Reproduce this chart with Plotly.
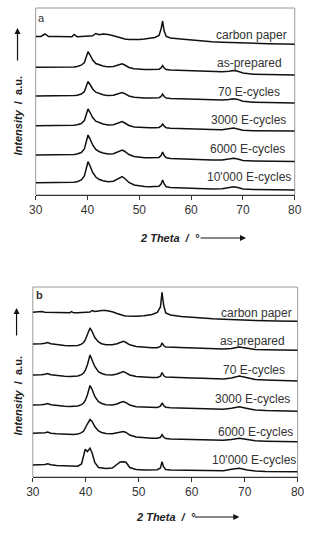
import plotly.graph_objects as go

W, H = 318, 543

# ---------------- Panel a data ----------------
xa = [30, 31, 31.8, 32.5, 34, 35, 36, 37, 37.4, 38, 38.8, 39.4, 39.8, 40.1, 40.5, 41, 41.6, 42.3, 43, 43.5,
      44, 45, 45.8, 46.3, 46.7, 47.2, 48, 49, 50, 51, 52, 53, 53.8, 54.2, 54.5, 54.8, 55.2, 56, 58, 60,
      62, 64, 66, 67.3, 68.2, 69, 70, 72, 75, 78, 80]

a_carbon = [158.5, 158.5, 161, 158.5, 158.4, 158.3, 158.3, 158.3, 160.5, 158.3, 158.5, 158.6, 158.7, 158.8, 158.9,
            159.2, 161.5, 160.2, 161, 161, 160.5, 159.2, 158, 157.3, 156.7, 156, 155.5, 155.4, 155.5, 156, 156.5,
            157.5, 159.5, 166, 174, 164, 158.5, 157, 156, 155, 154, 153.3, 152.8, 152.5, 152.3, 152.2, 152,
            151.7, 151.3, 151, 150.7]
a_asprep = [127.7, 127.7, 127.6, 127.5, 127.6, 127.5, 127.7, 128, 128.1, 128.5, 129.8, 132.5, 138, 143.3, 140,
            135, 131.5, 130, 129, 128.5, 128.2, 128.5, 129.5, 130.5, 131.2, 130, 127.5, 126.2, 125.7, 125.5,
            125.5, 125.5, 125.8, 127, 129.3, 127, 125.5, 125, 124.5, 124, 123.8, 123.5, 123.2, 123.8, 124.5,
            123.8, 122, 120.8, 120.3, 120.1, 120]
a_70 = [99, 99, 98.9, 98.8, 98.9, 98.8, 99, 99.3, 99.4, 99.8, 101, 103.5, 108.5, 113.5, 110.5, 106, 102.8, 101.3,
        100.3, 99.8, 99.5, 99.8, 100.8, 101.8, 102.5, 101.3, 99, 97.8, 97.2, 97, 97, 97, 97.3, 98.5, 100.8, 98.5,
        97, 96.6, 96.2, 95.8, 95.5, 95.2, 95, 95.6, 96.3, 95.6, 93.8, 92.8, 92.3, 92.1, 92]
a_3000 = [69.3, 69.3, 69.2, 69.1, 69.2, 69.1, 69.3, 69.6, 69.7, 70.2, 71.5, 74.5, 80.5, 86, 82.5, 77.5, 73.8, 72,
          71, 70.4, 70, 70.3, 71.5, 72.7, 73.5, 72, 69.5, 68, 67.5, 67.2, 67.2, 67.2, 67.5, 68.8, 71, 68.8, 67.2,
          66.8, 66.3, 66, 65.8, 65.5, 65.2, 66, 67, 66, 64.8, 64.3, 64.1, 64, 64]
a_6000 = [40, 40, 39.9, 39.8, 39.9, 39.8, 40, 40.3, 40.5, 41, 42.5, 46, 53, 60, 56, 50, 45.5, 43.3, 42, 41.4, 41,
          41.3, 42.8, 44.2, 45, 43.5, 40.5, 38.5, 37.8, 37.3, 37.2, 37.2, 37.6, 39.5, 43, 39.5, 37.2, 36.5, 36,
          35.7, 35.3, 35, 35, 36, 36.7, 36, 34.6, 34, 33.7, 33.5, 33.4]
a_10000 = [12.3, 12.3, 12.2, 12.1, 12.2, 12.1, 12.3, 12.6, 12.8, 13.3, 15, 19, 26.5, 33.3, 29, 22.5, 18, 15.5,
           14.2, 13.6, 13.2, 13.8, 15.8, 17.5, 18.3, 16.5, 12.5, 10, 9, 8.5, 8.3, 8.3, 8.8, 11, 15, 11, 8.2, 7.5,
           7, 6.6, 6.3, 6, 6.2, 7.5, 8.3, 7.5, 6, 5.5, 5.2, 5, 5]

# ---------------- Panel b data ----------------
xb = [30, 31, 31.6, 32.3, 32.8, 33.4, 34.5, 36, 37, 37.3, 37.7, 38.5, 39.2, 39.6, 39.9, 40.3, 40.8, 41.2, 41.7,
      42.4, 43, 43.8, 45, 45.9, 46.5, 47.1, 47.6, 48.3, 49.5, 51, 52.5, 53.5, 54.1, 54.4, 54.7, 55.1, 56, 58,
      60, 62, 64, 66, 67.5, 69, 70.5, 72, 74, 76, 78, 80]

b_carbon = [164.7, 164.8, 165.5, 164.7, 164.6, 164.5, 164.3, 164.2, 164.3, 165.3, 164.2, 164.2, 164.3, 164.4,
            164.5, 164.6, 165, 166.5, 165.5, 166, 166.5, 166.4, 165.3, 163.5, 162.3, 161.5, 161, 160.7, 160.7,
            161.2, 162.5, 164.5, 170, 184.7, 172, 164, 162, 160.5, 159.5, 158.8, 158.2, 157.7, 157.3, 157,
            156.8, 156.5, 156.2, 156, 155.8, 155.7]
b_asprep = [133, 133, 133.2, 133.8, 134.5, 133.2, 132.3, 131.5, 131.2, 131.2, 131.2, 131.5, 132.8, 134.5, 137,
            142, 149, 145.5, 139.5, 135, 133.3, 132.3, 132.2, 133.3, 134.8, 135.8, 134.5, 132.2, 130.5, 129.5,
            129.2, 129.3, 130.5, 134, 131.5, 130, 129.8, 129.5, 129, 128.7, 128.2, 128, 128.5, 130, 128.7, 127.5,
            127.2, 127, 126.8, 126.7]
b_70 = [102, 102, 102.2, 102.8, 103.5, 102.3, 101.5, 100.8, 100.5, 100.5, 100.6, 101, 102.3, 104, 106.5, 112,
        122, 117.5, 110.5, 105.3, 103.5, 102.3, 102, 103, 104.5, 105.5, 104.2, 102, 100.5, 99.8, 99.5, 99.6,
        100.8, 104.5, 101.5, 100, 99.7, 99.4, 99, 98.7, 98.3, 98, 99, 101, 99.2, 97.5, 97, 96.6, 96.3, 96]
b_3000 = [72, 72, 72.2, 72.8, 73.5, 72.3, 71.5, 70.8, 70.5, 70.5, 70.6, 71, 72.3, 74, 76.5, 82, 91.5, 87.5, 80.5,
          75.3, 73.5, 72.3, 72, 73, 74.5, 75.5, 74.3, 72, 70.3, 69.8, 69.5, 69.6, 70.8, 74, 71.5, 69.8, 69.3,
          69, 68.6, 68.3, 68, 67.8, 68.8, 70.3, 68.6, 67, 66.5, 66.2, 66, 65.8]
b_6000 = [43.7, 43.7, 43.8, 44.3, 45, 43.8, 43.2, 42.6, 42.3, 42.3, 42.4, 42.9, 44.3, 46, 48.5, 53, 57.5, 55.5,
          50.5, 46, 44.5, 43.5, 43.3, 44, 45, 45.5, 44.5, 42, 40, 39.2, 38.8, 38.8, 39.7, 42.3, 40, 38.5, 38,
          37.8, 37.5, 37.2, 37, 36.8, 37.6, 38.8, 37.5, 36.2, 35.8, 35.6, 35.4, 35.3]
b_10000 = [12, 12, 12.1, 12.6, 13.3, 12.2, 11.5, 11, 10.7, 10.6, 10.5, 10.8, 13, 22, 27.7, 25.3, 28.7, 24, 14.5,
           9.5, 8.8, 8.6, 9, 12.5, 15, 15.3, 14.8, 9.5, 7.5, 7, 7, 7.3, 9, 15.3, 10, 7.5, 7, 6.8, 6.5, 6.3, 6.2,
           6.3, 7.8, 8.7, 7, 6, 5.6, 5.4, 5.3, 5.3]

labels = ["carbon paper", "as-prepared", "70 E-cycles", "3000 E-cycles", "6000 E-cycles", "10'000 E-cycles"]
series_a = [a_carbon, a_asprep, a_70, a_3000, a_6000, a_10000]
series_b = [b_carbon, b_asprep, b_70, b_3000, b_6000, b_10000]
x_ticks = [30, 40, 50, 60, 70, 80]


def px(x):
    return x / W


def py(y):
    return 1 - y / H


FONT = "Liberation Sans, Arial, sans-serif"
LINE = "#111111"
TXT = "#333333"
FRAME = "#9a9a9a"

fig = go.Figure()
for name, ys in zip(labels, series_a):
    fig.add_trace(go.Scatter(x=xa, y=ys, mode="lines", name=name, line=dict(color=LINE, width=1.5),
                             xaxis="x", yaxis="y", showlegend=False, hoverinfo="skip"))
for name, ys in zip(labels, series_b):
    fig.add_trace(go.Scatter(x=xb, y=ys, mode="lines", name=name, line=dict(color=LINE, width=1.5),
                             xaxis="x2", yaxis="y2", showlegend=False, hoverinfo="skip"))

# plot boxes (pixel positions)
box_a = (30, 8, 301, 195)
box_b = (27, 287, 304, 477)

xcommon = dict(range=[30, 80], tickvals=x_ticks, ticks="outside", ticklen=4, tickcolor="#333",
               tickwidth=1, showline=True, linecolor="#333", linewidth=1, showgrid=False, zeroline=False,
               tickfont=dict(family=FONT, size=12, color=TXT), fixedrange=True)
ycommon = dict(showticklabels=False, ticks="", showgrid=False, zeroline=False, showline=False, fixedrange=True)

fig.update_layout(
    width=W, height=H, margin=dict(l=0, r=0, t=0, b=0),
    paper_bgcolor="white", plot_bgcolor="white",
    xaxis=dict(domain=[px(box_a[0]), px(box_a[2])], anchor="y", **xcommon),
    yaxis=dict(domain=[py(box_a[3]), py(box_a[1])], range=[0, 187], anchor="x", **ycommon),
    xaxis2=dict(domain=[px(box_b[0]), px(box_b[2])], anchor="y2", **xcommon),
    yaxis2=dict(domain=[py(box_b[3]), py(box_b[1])], range=[0, 190], anchor="x2", **ycommon),
)

shapes = []
for (x0, y0, x1, y1) in (box_a, box_b):
    shapes.append(dict(type="rect", xref="paper", yref="paper", x0=px(x0), x1=px(x1), y0=py(y1), y1=py(y0),
                       line=dict(color=FRAME, width=1), layer="below"))
fig.update_layout(shapes=shapes)

ann = []
# curve labels
lab_a = [(256, 34.5), (254, 63.5), (253, 92), (252.5, 120), (252, 149), (253.5, 177)]
lab_b = [(261, 313), (256.5, 341), (258.5, 369.5), (257, 398.5), (259.5, 431.5), (258.5, 460)]
for t, (x, y) in zip(labels, lab_a):
    ann.append(dict(text=t, x=px(x), y=py(y), xref="paper", yref="paper", showarrow=False,
                    xanchor="center", yanchor="middle", font=dict(family=FONT, size=12, color=TXT)))
for t, (x, y) in zip(labels, lab_b):
    ann.append(dict(text=t, x=px(x), y=py(y), xref="paper", yref="paper", showarrow=False,
                    xanchor="center", yanchor="middle", font=dict(family=FONT, size=12, color=TXT)))

# panel letters
ann.append(dict(text="a", x=px(36), y=py(18), xref="paper", yref="paper", showarrow=False,
                xanchor="center", yanchor="middle", font=dict(family=FONT, size=11, color=TXT)))
ann.append(dict(text="<b>b</b>", x=px(33.5), y=py(295), xref="paper", yref="paper", showarrow=False,
                xanchor="center", yanchor="middle", font=dict(family=FONT, size=11, color=TXT)))

# axis titles
for (cx, cy, ax0, ax1, ay) in ((170, 238, 203, 250, 238), (166, 517, 197, 243, 517)):
    ann.append(dict(text="<b><i>2 Theta  /  °</i></b>", x=px(cx), y=py(cy), xref="paper", yref="paper",
                    showarrow=False, xanchor="center", yanchor="middle",
                    font=dict(family=FONT, size=11, color="#222")))
    ann.append(dict(text="", x=px(ax1), y=py(ay), xref="paper", yref="paper", showarrow=True,
                    ax=-(ax1 - ax0), ay=0, arrowhead=2, arrowsize=1, arrowwidth=1.2, arrowcolor="#111"))

for (cx, cy, yt, yb) in ((12, 116, 28, 62), (11, 396, 308, 337)):
    ann.append(dict(text="<b><i>Intensity</i>  /  a.u.</b>", x=px(cx), y=py(cy), xref="paper", yref="paper",
                    showarrow=False, textangle=-90, xanchor="center", yanchor="middle",
                    font=dict(family=FONT, size=11, color="#222")))
    ann.append(dict(text="", x=px(cx - 1), y=py(yt), xref="paper", yref="paper", showarrow=True,
                    ax=0, ay=(yb - yt), arrowhead=2, arrowsize=1, arrowwidth=1.2, arrowcolor="#111"))

fig.update_layout(annotations=ann)
fig.write_html("out.html")
